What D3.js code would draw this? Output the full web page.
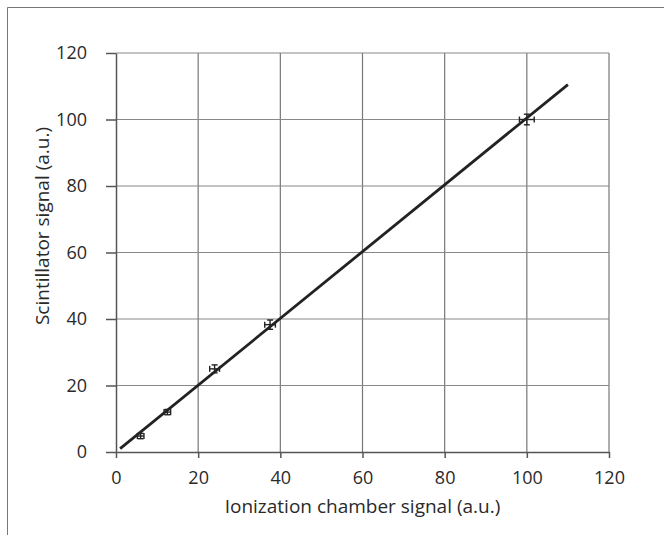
<!DOCTYPE html>
<html>
<head>
<meta charset="utf-8">
<script src="https://cdn.jsdelivr.net/npm/d3@7"></script>
<style>
  body { margin: 0; background: #fff; }
  text { font-family: "Open Sans", "Noto Sans", sans-serif; fill: #2a2a2a; }
</style>
</head>
<body>
<div id="chart"></div>
<script>
// measured points
const ionSignal = [6, 12.5, 24, 37.5, 100];
const scintSignal = [4.8, 12, 25, 38.3, 100];
const ionErr = [0.8, 0.8, 1.2, 1.3, 1.8];
const scintErr = [0.8, 0.8, 1.2, 1.4, 1.6];
// fitted line end points
const fitX = [1, 110];
const fitY = [1, 110.5];
const ticks = [0, 20, 40, 60, 80, 100, 120];

const W = 664, H = 549;
const margin = {top: 53, right: 55, bottom: 97, left: 116};

const svg = d3.select("#chart").append("svg")
    .attr("width", W).attr("height", H);

// frame (only top/left visible in the crop)
svg.append("path")
    .attr("d", "M7.5,535 V7.5 H664")
    .attr("fill", "none").attr("stroke", "#777").attr("stroke-width", 1);

const x = d3.scaleLinear().domain([0, 120]).range([margin.left, W - margin.right]);
const y = d3.scaleLinear().domain([0, 120]).range([H - margin.bottom, margin.top]);

// grid
svg.append("g").selectAll("line").data(ticks.slice(1)).enter().append("line")
    .attr("x1", d => x(d)).attr("x2", d => x(d))
    .attr("y1", y(0)).attr("y2", y(120))
    .attr("stroke", "#777").attr("stroke-width", 1.2);
svg.append("g").selectAll("line").data(ticks.slice(1)).enter().append("line")
    .attr("y1", d => y(d)).attr("y2", d => y(d))
    .attr("x1", x(0)).attr("x2", x(120))
    .attr("stroke", "#888").attr("stroke-width", 1.2);

const xAxis = svg.append("g")
    .attr("transform", `translate(0,${y(0)})`)
    .call(d3.axisBottom(x).tickValues(ticks).tickSize(6).tickPadding(13).tickSizeOuter(0));
const yAxis = svg.append("g")
    .attr("transform", `translate(${x(0)},0)`)
    .call(d3.axisLeft(y).tickValues(ticks).tickSize(10).tickPadding(19).tickSizeOuter(0));

[xAxis, yAxis].forEach(a => {
  a.select(".domain").attr("stroke", "#555").attr("stroke-width", 1.5);
  a.selectAll(".tick line").attr("stroke", "#555").attr("stroke-width", 1.5);
  a.selectAll(".tick text").style("font-size", "18px").attr("fill", "#2a2a2a");
});

// fit line
svg.append("line")
    .attr("x1", x(fitX[0])).attr("y1", y(fitY[0]))
    .attr("x2", x(fitX[1])).attr("y2", y(fitY[1]))
    .attr("stroke", "#222").attr("stroke-width", 2.8);

// error bars
const pts = ionSignal.map((v, i) => ({x: v, y: scintSignal[i], ex: ionErr[i], ey: scintErr[i]}));
const eb = svg.append("g").attr("stroke", "#222").attr("stroke-width", 1.4);
pts.forEach(d => {
  const cx = x(d.x), cy = y(d.y);
  const x0 = x(d.x - d.ex), x1 = x(d.x + d.ex);
  const y0 = y(d.y - d.ey), y1 = y(d.y + d.ey);
  eb.append("line").attr("x1", x0).attr("x2", x1).attr("y1", cy).attr("y2", cy);
  eb.append("line").attr("x1", cx).attr("x2", cx).attr("y1", y0).attr("y2", y1);
  eb.append("line").attr("x1", x0).attr("x2", x0).attr("y1", cy - 3).attr("y2", cy + 3);
  eb.append("line").attr("x1", x1).attr("x2", x1).attr("y1", cy - 3).attr("y2", cy + 3);
  eb.append("line").attr("x1", cx - 3).attr("x2", cx + 3).attr("y1", y0).attr("y2", y0);
  eb.append("line").attr("x1", cx - 3).attr("x2", cx + 3).attr("y1", y1).attr("y2", y1);
});

// axis titles
svg.append("text")
    .attr("x", (x(0) + x(120)) / 2).attr("y", 513)
    .attr("text-anchor", "middle").style("font-size", "19px")
    .text("Ionization chamber signal (a.u.)");
svg.append("text")
    .attr("transform", "translate(49,226) rotate(-90)")
    .attr("text-anchor", "middle").style("font-size", "19px")
    .text("Scintillator signal (a.u.)");
</script>
</body>
</html>
